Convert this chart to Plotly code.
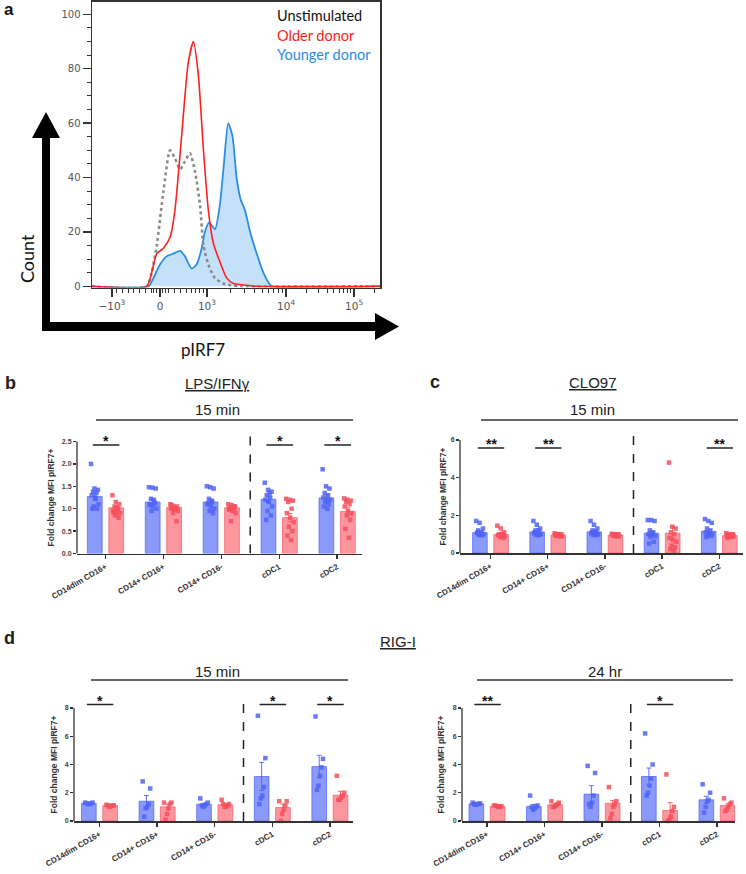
import plotly.graph_objects as go

W, H = 746, 874

# ---------------- Panel a data (display units 0-100 across the plot box) -------------
red_x = [0, 19.0, 20.7, 22.5, 24.8, 27.1, 28.8, 31.1, 33.4, 35.2, 36.9, 38.7, 40.4, 42.1, 44.4, 46.8, 49.1, 53.7, 57.2, 100]
red_y = [0, 0, 5, 12, 14, 18, 28, 55, 82, 90, 78, 50, 28, 16, 9, 3, 1, 0.4, 0, 0]
gray_x = [0, 19.0, 20.7, 22.5, 24.8, 27.1, 28.8, 30.6, 32.3, 34.0, 35.8, 37.5, 38.7, 40.4, 42.7, 45.6, 49.1, 52.0, 100]
gray_y = [0, 0, 5, 15, 35, 50, 47, 43, 46, 49, 42, 30, 15, 8, 3, 1, 0.3, 0, 0]
blue_x = [0, 19.6, 21.3, 23.6, 25.9, 28.2, 30.6, 32.3, 34.6, 36.3, 38.1, 39.2, 40.7, 42.7, 44.4, 45.8, 47.3, 48.8, 50.2, 51.6, 53.1, 54.9, 57.2, 59.5, 61.2, 62.4, 100]
blue_y = [0, 0, 3, 8, 11, 12, 13, 11, 6.5, 8, 14, 20, 23.5, 21, 30, 45, 60, 55, 40, 32, 28, 20, 12, 5, 1.5, 0, 0]
a_tick_text = ["\u221210<sup>3</sup>", "0", "10<sup>3</sup>", "10<sup>4</sup>", "10<sup>5</sup>"]
a_legend = ["Unstimulated", "Older donor", "Younger donor"]

# ---------------- Bar panels data -------------
cats = ["CD14dim CD16+", "CD14+ CD16+", "CD14+ CD16-", "cDC1", "cDC2"]

# b: LPS/IFNγ 15 min
b_blue_mean = [1.27, 1.15, 1.15, 1.21, 1.24]
b_red_mean = [1.02, 1.03, 1.02, 0.80, 0.94]
b_blue_sem = [0.08, 0.05, 0.05, 0.07, 0.07]
b_red_sem = [0.04, 0.03, 0.03, 0.09, 0.08]
b_blue_pts = [
    [2.0, 1.45, 1.42, 1.38, 1.35, 1.3, 1.25, 1.1, 1.05, 1.0, 1.0, 1.22],
    [1.48, 1.47, 1.45, 1.22, 1.15, 1.1, 1.05, 1.0, 0.95, 1.12, 1.08, 1.2],
    [1.5, 1.48, 1.45, 1.22, 1.15, 1.1, 1.05, 1.0, 0.95, 0.9, 1.12, 1.18],
    [1.58, 1.42, 1.38, 1.3, 1.25, 1.2, 1.15, 1.05, 0.95, 0.85, 0.75, 1.35],
    [1.88, 1.5, 1.45, 1.35, 1.3, 1.25, 1.22, 1.2, 1.15, 1.1, 1.05, 1.0],
]
b_red_pts = [
    [1.3, 1.15, 1.1, 1.05, 1.0, 0.95, 0.92, 0.9, 0.85, 0.8, 0.9, 1.02],
    [1.1, 1.05, 1.05, 1.02, 1.0, 1.0, 0.98, 0.95, 0.9, 0.72, 1.08, 1.0],
    [1.1, 1.08, 1.05, 1.0, 1.0, 0.98, 0.95, 0.9, 0.72, 1.05, 1.02, 1.0],
    [1.22, 1.2, 1.18, 1.15, 1.0, 0.9, 0.8, 0.7, 0.6, 0.5, 0.4, 0.3],
    [1.23, 1.2, 1.18, 1.15, 1.1, 1.05, 0.95, 0.9, 0.85, 0.75, 0.55, 0.35],
]
b_sig_groups = [0, 3, 4]
b_sig_text = ["*", "*", "*"]

# c: CLO97 15 min
c_blue_mean = [1.08, 1.12, 1.12, 1.05, 1.15]
c_red_mean = [0.98, 0.95, 0.95, 1.05, 0.92]
c_blue_sem = [0.07, 0.07, 0.07, 0.09, 0.09]
c_red_sem = [0.04, 0.02, 0.02, 0.35, 0.03]
c_blue_pts = [
    [1.7, 1.6, 1.3, 1.2, 1.1, 1.05, 1.0, 1.0, 0.95, 0.95, 1.1, 1.0],
    [1.7, 1.5, 1.3, 1.2, 1.1, 1.05, 1.0, 1.0, 0.95, 0.95, 1.1, 1.2],
    [1.7, 1.5, 1.3, 1.2, 1.1, 1.05, 1.0, 1.0, 0.95, 0.95, 1.1, 1.15],
    [1.75, 1.75, 1.7, 1.2, 1.1, 1.0, 0.95, 0.9, 0.85, 0.6, 0.5, 1.05],
    [1.8, 1.7, 1.6, 1.3, 1.2, 1.1, 1.05, 1.0, 0.95, 0.9, 0.85, 1.0],
]
c_red_pts = [
    [1.45, 1.3, 1.1, 1.0, 1.0, 0.95, 0.9, 0.9, 0.85, 0.8, 0.95, 1.0],
    [1.05, 1.0, 1.0, 0.98, 0.95, 0.95, 0.92, 0.9, 0.9, 0.88, 0.95, 0.97],
    [1.02, 1.0, 1.0, 0.98, 0.95, 0.95, 0.92, 0.9, 0.9, 0.88, 0.95, 0.97],
    [4.8, 1.4, 1.3, 1.1, 1.0, 0.8, 0.7, 0.6, 0.4, 0.3, 0.2, 0.1],
    [1.05, 1.0, 1.0, 0.95, 0.95, 0.92, 0.9, 0.9, 0.88, 0.85, 0.8, 0.9],
]
c_sig_groups = [0, 1, 4]
c_sig_text = ["**", "**", "**"]

# d: RIG-I 15 min
d15_blue_mean = [1.25, 1.4, 1.18, 3.15, 3.85]
d15_red_mean = [1.08, 1.0, 1.15, 0.95, 1.82]
d15_blue_sem = [0.04, 0.4, 0.08, 1.0, 0.8]
d15_red_sem = [0.03, 0.2, 0.08, 0.25, 0.28]
d15_blue_pts = [
    [1.3, 1.3, 1.25, 1.2, 1.2, 1.25],
    [2.8, 2.3, 1.2, 1.0, 0.9, 0.3],
    [1.6, 1.3, 1.2, 1.1, 1.0, 1.1],
    [7.45, 4.45, 2.4, 1.8, 1.6, 1.2],
    [7.4, 4.4, 3.8, 3.2, 2.5, 2.2],
]
d15_red_pts = [
    [1.15, 1.1, 1.1, 1.05, 1.0, 1.1],
    [1.3, 1.3, 1.2, 0.9, 0.5, 0.1],
    [1.5, 1.2, 1.1, 1.0, 1.0, 1.2],
    [1.4, 1.4, 1.1, 0.8, 0.5, 0.0],
    [3.2, 2.0, 1.8, 1.7, 1.5, 1.5],
]
d15_sig_groups = [0, 3, 4]
d15_sig_text = ["*", "*", "*"]

# d: RIG-I 24 hr
d24_blue_mean = [1.22, 1.02, 1.9, 3.15, 1.5]
d24_red_mean = [1.05, 1.15, 1.25, 0.75, 1.1]
d24_blue_sem = [0.04, 0.15, 0.6, 0.6, 0.25]
d24_red_sem = [0.02, 0.08, 0.2, 0.55, 0.12]
d24_blue_pts = [
    [1.3, 1.25, 1.2, 1.2, 1.15, 1.2],
    [1.8, 1.1, 1.0, 0.9, 0.8, 1.0],
    [3.9, 3.4, 1.8, 1.3, 1.0, 1.2],
    [6.2, 4.0, 3.0, 2.5, 2.0, 1.8],
    [2.6, 2.0, 1.5, 1.4, 1.0, 0.6],
]
d24_red_pts = [
    [1.1, 1.05, 1.0, 1.0, 1.05, 1.1],
    [1.4, 1.3, 1.2, 1.1, 1.0, 1.0],
    [2.4, 1.4, 1.2, 1.0, 0.5, 0.2],
    [3.3, 1.0, 0.7, 0.3, 0.1, 0.0],
    [1.6, 1.3, 1.2, 1.0, 0.8, 0.7],
]
d24_sig_groups = [0, 3]
d24_sig_text = ["**", "*"]

# ---------------- helpers -------------
def fx(px):
    return px / W

def fy(py):
    return 1 - py / H

BLUE_BAR = "rgba(105,125,250,0.78)"
BLUE_EDGE = "rgba(80,100,245,0.9)"
RED_BAR = "rgba(250,115,125,0.75)"
RED_EDGE = "rgba(245,90,100,0.9)"
BLUE_PT = "rgba(80,100,245,0.85)"
RED_PT = "rgba(245,80,92,0.85)"
AX = "#333333"
ARIAL = "Arial, Liberation Sans, sans-serif"
GILL = "Lato, sans-serif"

fig = go.Figure()
shapes = []
annotations = []

def ann(**kw):
    kw.setdefault("xanchor", "center")
    kw.setdefault("yanchor", "middle")
    kw.setdefault("showarrow", False)
    annotations.append(kw)

# ---------------- Panel a -------------
fig.add_trace(go.Scatter(x=blue_x, y=blue_y, mode="lines", xaxis="x", yaxis="y",
                         line=dict(color="#2b8de6", width=1.8, shape="spline", smoothing=0.6),
                         fill="tozeroy", fillcolor="rgba(150,200,245,0.55)", hoverinfo="skip"))
fig.add_trace(go.Scatter(x=gray_x, y=gray_y, mode="lines", xaxis="x", yaxis="y",
                         line=dict(color="#8a8a8a", width=2.6, dash="dot", shape="spline", smoothing=0.6),
                         hoverinfo="skip"))
fig.add_trace(go.Scatter(x=red_x, y=red_y, mode="lines", xaxis="x", yaxis="y",
                         line=dict(color="#ff2020", width=1.6, shape="spline", smoothing=0.6),
                         hoverinfo="skip"))

a_major = [6.9, 23.6, 39.9, 67.4, 91.0]
a_minor = [8.5, 10.5, 12.5, 14.5, 16.5, 18.5, 20.5, 21.5, 22.5, 24.6, 25.4, 26.5, 28.7, 30.8,
           32.8, 34.6, 36.1, 37.4, 38.7, 48.2, 53.0, 56.5, 59.1, 61.3, 63.1, 64.7, 66.1,
           74.5, 78.7, 81.6, 83.9, 85.8, 87.3, 88.7, 89.9, 98.1]

layout_axes = dict(
    xaxis=dict(domain=[fx(92), fx(380)], range=[0, 100], anchor="y", automargin=False,
               showline=True, mirror=True, linecolor=AX, linewidth=1.5,
               showgrid=False, zeroline=False, ticks="outside", ticklen=8, tickwidth=1.6,
               tickcolor=AX, tickmode="array", tickvals=a_major, ticktext=a_tick_text,
               tickfont=dict(family="DejaVu Sans", size=10.5, color="#555"),
               minor=dict(tickmode="array", tickvals=a_minor, ticks="outside", ticklen=4,
                          tickcolor=AX, tickwidth=1, showgrid=False)),
    yaxis=dict(domain=[fy(287.5), fy(1.5)], range=[-0.44, 104.7], anchor="x", automargin=False,
               showline=True, mirror=True, linecolor=AX, linewidth=1.5,
               showgrid=False, zeroline=False, ticks="outside", ticklen=8, tickwidth=1.4,
               tickcolor=AX, tickmode="array", tickvals=[0, 20, 40, 60, 80, 100],
               tickfont=dict(family="DejaVu Sans", size=10, color="#555"),
               minor=dict(dtick=5, tick0=0, ticks="outside", ticklen=4, tickcolor=AX, tickwidth=1,
                          showgrid=False)),
)

# legend text
for i, (t, c) in enumerate(zip(a_legend, ["#111111", "#ff1a1a", "#2a8be0"])):
    ann(text=t, x=fx(275), y=fy(15 + 20 * i), xref="paper", yref="paper", xanchor="left",
        font=dict(family=GILL, size=14.5, color=c))

ann(text="<b>a</b>", x=fx(9), y=fy(9), xref="paper", yref="paper",
    font=dict(family=ARIAL, size=17, color="#111"))
ann(text="Count", x=fx(27), y=fy(259), xref="paper", yref="paper", textangle=-90,
    font=dict(family=GILL, size=18, color="#111"))
ann(text="pIRF7", x=fx(203), y=fy(350), xref="paper", yref="paper",
    font=dict(family=GILL, size=17, color="#111"))

# big arrows
def prect(x0, y0, x1, y1):
    return dict(type="rect", xref="paper", yref="paper", x0=fx(x0), x1=fx(x1), y0=fy(y1), y1=fy(y0),
                fillcolor="black", line=dict(width=0), layer="above")

def ptri(pts):
    p = "M " + " L ".join(f"{fx(a):.5f},{fy(b):.5f}" for a, b in pts) + " Z"
    return dict(type="path", xref="paper", yref="paper", path=p, fillcolor="black",
                line=dict(width=0), layer="above")

shapes.append(prect(42, 135, 50, 331))
shapes.append(ptri([(32, 138), (60, 138), (46, 112)]))
shapes.append(prect(42, 322, 377, 331))
shapes.append(ptri([(375, 313), (375, 340), (399, 326.5)]))

# ---------------- Bar panels -------------
panels = [
    dict(ax="2", L=77, R=362, c0=105.5, s=57.9, y0px=553.5, ppu=44.8, top=2.75, ticktop=2.5,
         yt=[0, 0.5, 1.0, 1.5, 2.0, 2.5], ytt=["0.0", "0.5", "1.0", "1.5", "2.0", "2.5"],
         bm=b_blue_mean, rm=b_red_mean, bs=b_blue_sem, rs=b_red_sem, bp=b_blue_pts, rp=b_red_pts,
         sg=b_sig_groups, st=b_sig_text, sigy=2.42, stary=2.6, dashtop=2.62, ytitle_x=50),
    dict(ax="3", L=460, R=743, c0=490.5, s=57.2, y0px=553, ppu=18.83, top=6.6, ticktop=6,
         yt=[0, 2, 4, 6], ytt=["0", "2", "4", "6"],
         bm=c_blue_mean, rm=c_red_mean, bs=c_blue_sem, rs=c_red_sem, bp=c_blue_pts, rp=c_red_pts,
         sg=c_sig_groups, st=c_sig_text, sigy=5.58, stary=6.0, dashtop=6.25, ytitle_x=443),
    dict(ax="4", L=74, R=353, c0=99.5, s=57.6, y0px=821, ppu=14.125, top=9.3, ticktop=8,
         yt=[0, 2, 4, 6, 8], ytt=["0", "2", "4", "6", "8"],
         bm=d15_blue_mean, rm=d15_red_mean, bs=d15_blue_sem, rs=d15_red_sem, bp=d15_blue_pts, rp=d15_red_pts,
         sg=d15_sig_groups, st=d15_sig_text, sigy=8.25, stary=8.8, dashtop=8.4, ytitle_x=53),
    dict(ax="5", L=462, R=735, c0=487, s=57.5, y0px=821, ppu=14.125, top=9.3, ticktop=8,
         yt=[0, 2, 4, 6, 8], ytt=["0", "2", "4", "6", "8"],
         bm=d24_blue_mean, rm=d24_red_mean, bs=d24_blue_sem, rs=d24_red_sem, bp=d24_blue_pts, rp=d24_red_pts,
         sg=d24_sig_groups, st=d24_sig_text, sigy=8.25, stary=8.8, dashtop=8.4, ytitle_x=440),
]

OFF = 0.185
BW = 0.255

def jitter(n):
    return [(((k * 5) % n) / max(n - 1, 1) - 0.5) * 0.13 for k in range(n)]

for p in panels:
    xa, ya = "x" + p["ax"], "y" + p["ax"]
    idx = list(range(len(cats)))
    for means, sems, pts, sign, fc, ec, pc in [
        (p["bm"], p["bs"], p["bp"], -1, BLUE_BAR, BLUE_EDGE, BLUE_PT),
        (p["rm"], p["rs"], p["rp"], 1, RED_BAR, RED_EDGE, RED_PT),
    ]:
        fig.add_trace(go.Bar(x=[i + sign * OFF for i in idx], y=means, width=BW, xaxis=xa, yaxis=ya,
                             marker=dict(color=fc, line=dict(color=ec, width=0.8)),
                             error_y=dict(type="data", array=sems, visible=True, color=ec,
                                          thickness=1, width=2.5),
                             hoverinfo="skip"))
        px_, py_ = [], []
        for i, vals in zip(idx, pts):
            j = jitter(len(vals))
            for k, v in enumerate(vals):
                px_.append(i + sign * OFF + j[k])
                py_.append(v)
        fig.add_trace(go.Scatter(x=px_, y=py_, mode="markers", xaxis=xa, yaxis=ya,
                                 marker=dict(symbol="square", size=4.5, color=pc, line=dict(width=0)),
                                 cliponaxis=False, hoverinfo="skip"))

    L, R = p["L"], p["R"]
    x_lo = (L - p["c0"]) / p["s"]
    x_hi = (R - p["c0"]) / p["s"]
    dtop_px = p["y0px"] - p["top"] * p["ppu"]
    layout_axes["xaxis" + p["ax"]] = dict(
        domain=[fx(L), fx(R)], range=[x_lo, x_hi], anchor=ya, automargin=False, showline=True,
        linecolor=AX, linewidth=1.6, showgrid=False, zeroline=False, ticks="outside", ticklen=4,
        tickwidth=1.3, tickcolor=AX, tickmode="array", tickvals=idx, ticktext=cats, tickangle=-30,
        tickfont=dict(family=ARIAL, size=8, color="#333", weight="bold"))
    layout_axes["yaxis" + p["ax"]] = dict(
        domain=[fy(p["y0px"]), fy(dtop_px)], range=[0, p["top"]], anchor=xa, automargin=False,
        showline=False, showgrid=False, zeroline=False, ticks="outside", ticklen=3, tickwidth=1.2,
        tickcolor=AX, tickmode="array", tickvals=p["yt"], ticktext=p["ytt"],
        tickfont=dict(family=ARIAL, size=7, color="#444", weight="bold"))
    # y axis line up to top tick
    shapes.append(dict(type="line", xref=xa + " domain", yref=ya, x0=0, x1=0, y0=0, y1=p["ticktop"],
                       line=dict(color=AX, width=1.3)))
    # dashed separator
    shapes.append(dict(type="line", xref=xa, yref=ya, x0=2.5, x1=2.5, y0=0, y1=p["dashtop"],
                       line=dict(color="#222", width=1.5, dash="dash")))
    # significance
    for g, t in zip(p["sg"], p["st"]):
        shapes.append(dict(type="line", xref=xa, yref=ya, x0=g - 0.22, x1=g + 0.24,
                           y0=p["sigy"], y1=p["sigy"], line=dict(color="#222", width=1.5)))
        ann(text="<b>" + t + "</b>", x=g + 0.01, y=p["stary"], xref=xa, yref=ya, yshift=-4,
            font=dict(family=ARIAL, size=14, color="#111"))
    ann(text="<b>Fold change MFI pIRF7+</b>", x=fx(p["ytitle_x"]),
        y=fy(p["y0px"] - p["ticktop"] * p["ppu"] / 2), xref="paper", yref="paper",
        textangle=-90, font=dict(family=ARIAL, size=8.5, color="#333"))

# headers
def txt(t, x, y, size, bold=False):
    ann(text=("<b>%s</b>" % t) if bold else t, x=fx(x), y=fy(y), xref="paper", yref="paper",
        font=dict(family=ARIAL, size=size, color="#222"))

def hline(x0, x1, y):
    shapes.append(dict(type="line", xref="paper", yref="paper", x0=fx(x0), x1=fx(x1), y0=fy(y), y1=fy(y),
                       line=dict(color="#333", width=1.5)))

txt("b", 10, 383, 18, True)
txt("c", 435, 382, 18, True)
txt("d", 9, 638, 18, True)
txt("<u>LPS/IFNγ</u>", 217, 383, 15)
txt("<u>CLO97</u>", 593, 382, 15)
txt("<u>RIG-I</u>", 398, 641, 15)
txt("15 min", 217, 409, 15)
hline(96, 353, 420)
txt("15 min", 592, 409, 15)
hline(481, 738, 420)
txt("15 min", 217, 671, 15)
hline(91, 348, 680)
txt("24 hr", 605, 671, 15)
hline(477, 733, 680)

fig.update_layout(
    template="none",
    width=W, height=H, margin=dict(l=0, r=0, t=0, b=0, autoexpand=False),
    paper_bgcolor="white", plot_bgcolor="white", showlegend=False,
    barmode="overlay", shapes=shapes, annotations=annotations, **layout_axes)

fig.write_html("out.html", config={"displayModeBar": False, "staticPlot": True},
               post_script="document.body.style.margin='0px';document.body.style.padding='0px';")
